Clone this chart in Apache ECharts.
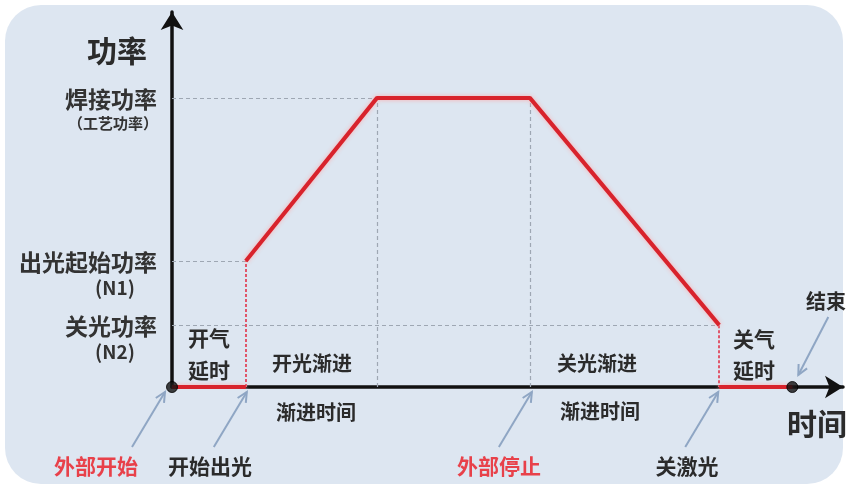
<!DOCTYPE html>
<html>
<head>
<meta charset="utf-8">
<style>
  html, body { margin: 0; padding: 0; background: #ffffff; }
  #chart { width: 846px; height: 487px; }
</style>
<script src="https://cdn.jsdelivr.net/npm/echarts@6/dist/echarts.min.js"></script>
</head>
<body>
<div id="chart"></div>
<script>
// time points: 外部开始, 开始出光, 渐进结束, 外部停止, 关激光, 结束
const eventTimes = [0, 0.99, 2.75, 4.80, 7.34, 8.32]
// power levels: 焊接功率, 出光起始功率(N1), 关光功率(N2)
const powerLevels = [77.1, 33.6, 16.5]
const levelNames = ['焊接功率', '出光起始功率', '关光功率']
const levelNotes = ['（工艺功率）', '(N1)', '(N2)']
const xMax = 9
const yMax = 100

const [tStart, tLight, tRampEnd, tStop, tOff, tEnd] = eventTimes
const [pWeld, pN1, pN2] = powerLevels

const FONT = '"Noto Sans CJK SC", "Noto Sans", sans-serif'
const RED = '#d8232c'
const GUIDE = '#9ea7b3'
const redDash = { color: '#e0566a', type: [3, 2], width: 2 }

const chart = echarts.init(document.getElementById('chart'), null, { renderer: 'canvas' })

const redLine = {
  type: 'line',
  symbol: 'none',
  silent: true,
  lineStyle: { color: RED, width: 4, shadowColor: 'rgba(255,170,170,0.9)', shadowBlur: 4 },
  z: 5,
}

const axisCommon = {
  type: 'value',
  min: 0,
  axisLine: { lineStyle: { color: '#111', width: 3.5 }, symbol: ['none', 'arrow'], symbolSize: [17, 18] },
  axisTick: { show: false },
  axisLabel: { show: false },
  splitLine: { show: false },
  z: 4,
}

chart.setOption({
  animation: false,
  backgroundColor: '#ffffff',
  grid: { left: 172, top: 12, right: 3, bottom: 100 },
  xAxis: { ...axisCommon, max: xMax },
  yAxis: { ...axisCommon, max: yMax },
  series: [
    // grey guides + red dashed verticals
    {
      type: 'line',
      data: [],
      silent: true,
      markLine: {
        symbol: 'none',
        silent: true,
        label: { show: false },
        lineStyle: { color: GUIDE, type: [4, 3], width: 1.2 },
        data: [
          [{ coord: [tStart, pWeld] }, { coord: [tRampEnd, pWeld] }],
          [{ coord: [tStart, pN1] }, { coord: [tLight, pN1] }],
          [{ coord: [tStart, pN2] }, { coord: [tOff, pN2] }],
          [{ coord: [tRampEnd, 0] }, { coord: [tRampEnd, pWeld] }],
          [{ coord: [tStop, 0] }, { coord: [tStop, pWeld] }],
          [{ coord: [tLight, 0], lineStyle: redDash }, { coord: [tLight, pN1] }],
          [{ coord: [tOff, pN2], lineStyle: redDash }, { coord: [tOff, 0] }],
        ],
      },
    },
    { ...redLine, data: [[tStart, 0], [tLight, 0]] },
    { ...redLine, data: [[tLight, pN1], [tRampEnd, pWeld], [tStop, pWeld], [tOff, pN2]] },
    { ...redLine, data: [[tOff, 0], [tEnd, 0]] },
    {
      type: 'scatter',
      silent: true,
      symbolSize: 11,
      itemStyle: { color: '#111', borderColor: '#000', borderWidth: 1 },
      data: [[tStart, 0], [tEnd, 0]],
      z: 6,
    },
  ],
})

function px(x, y) {
  return chart.convertToPixel({ gridIndex: 0 }, [x, y])
}

function text(str, x, y, size, opts = {}) {
  return {
    type: 'text',
    x,
    y,
    silent: true,
    z: 10,
    style: {
      text: str,
      fontFamily: FONT,
      fontSize: size,
      fontWeight: opts.weight || 'bold',
      fill: opts.color || '#2b2b2b',
      align: opts.align || 'center',
      verticalAlign: 'middle',
    },
  }
}

function arrow(from, to) {
  const dx = to[0] - from[0]
  const dy = to[1] - from[1]
  const len = Math.hypot(dx, dy)
  const ux = dx / len
  const uy = dy / len
  const head = 11
  const a = 0.45
  const left = [to[0] - head * (ux * Math.cos(a) - uy * Math.sin(a)), to[1] - head * (uy * Math.cos(a) + ux * Math.sin(a))]
  const right = [to[0] - head * (ux * Math.cos(a) + uy * Math.sin(a)), to[1] - head * (uy * Math.cos(a) - ux * Math.sin(a))]
  const style = { stroke: '#8fa6c4', lineWidth: 2, fill: null }
  return [
    { type: 'line', silent: true, z: 9, shape: { x1: from[0], y1: from[1], x2: to[0], y2: to[1] }, style },
    { type: 'polyline', silent: true, z: 9, shape: { points: [left, to, right] }, style },
  ]
}

const graphics = [
  {
    type: 'rect',
    silent: true,
    z: -10,
    shape: { x: 5, y: 5, width: 838, height: 479, r: 36 },
    style: { fill: '#dde6f1' },
  },
  text('功率', 117, 51, 30),
]

powerLevels.forEach((lv, i) => {
  const y = px(0, lv)[1]
  graphics.push(text(levelNames[i], 157, y + 1, 23, { align: 'right', color: '#333' }))
  graphics.push(text(levelNotes[i], i === 0 ? 113 : 115, y + (i === 0 ? 25 : 27), i === 0 ? 15 : 19, { color: '#333' }))
})

const axisY = px(0, 0)[1]
graphics.push(
  text('开气', 209, 338, 21),
  text('延时', 209, 370, 21),
  text('开光渐进', 312, 363, 20),
  text('渐进时间', 316, 412, 20),
  text('关光渐进', 597, 363, 20),
  text('渐进时间', 600, 411, 20),
  text('关气', 754, 339, 21),
  text('延时', 754, 370, 21),
  text('结束', 806, 301, 20, { align: 'left' }),
  text('时间', 787, 424, 30, { align: 'left' }),
  text('外部开始', 96, 466, 21, { color: '#e8414a' }),
  text('开始出光', 210, 466, 21),
  text('外部停止', 499, 466, 21, { color: '#e8414a' }),
  text('关激光', 687, 466, 21),
)

const arrowTargets = [tStart, tLight, tStop, tOff]
const arrowTipDx = [-7, 1, 2, -1]
arrowTargets.forEach((t, i) => {
  const x = px(t, 0)[0] + arrowTipDx[i]
  graphics.push(...arrow([x - 33, axisY + 60], [x, axisY + 5]))
})
const endX = px(tEnd, 0)[0]
graphics.push(...arrow([endX + 36, axisY - 70], [endX + 6, axisY - 12]))

chart.setOption({ graphic: graphics })
</script>
</body>
</html>
